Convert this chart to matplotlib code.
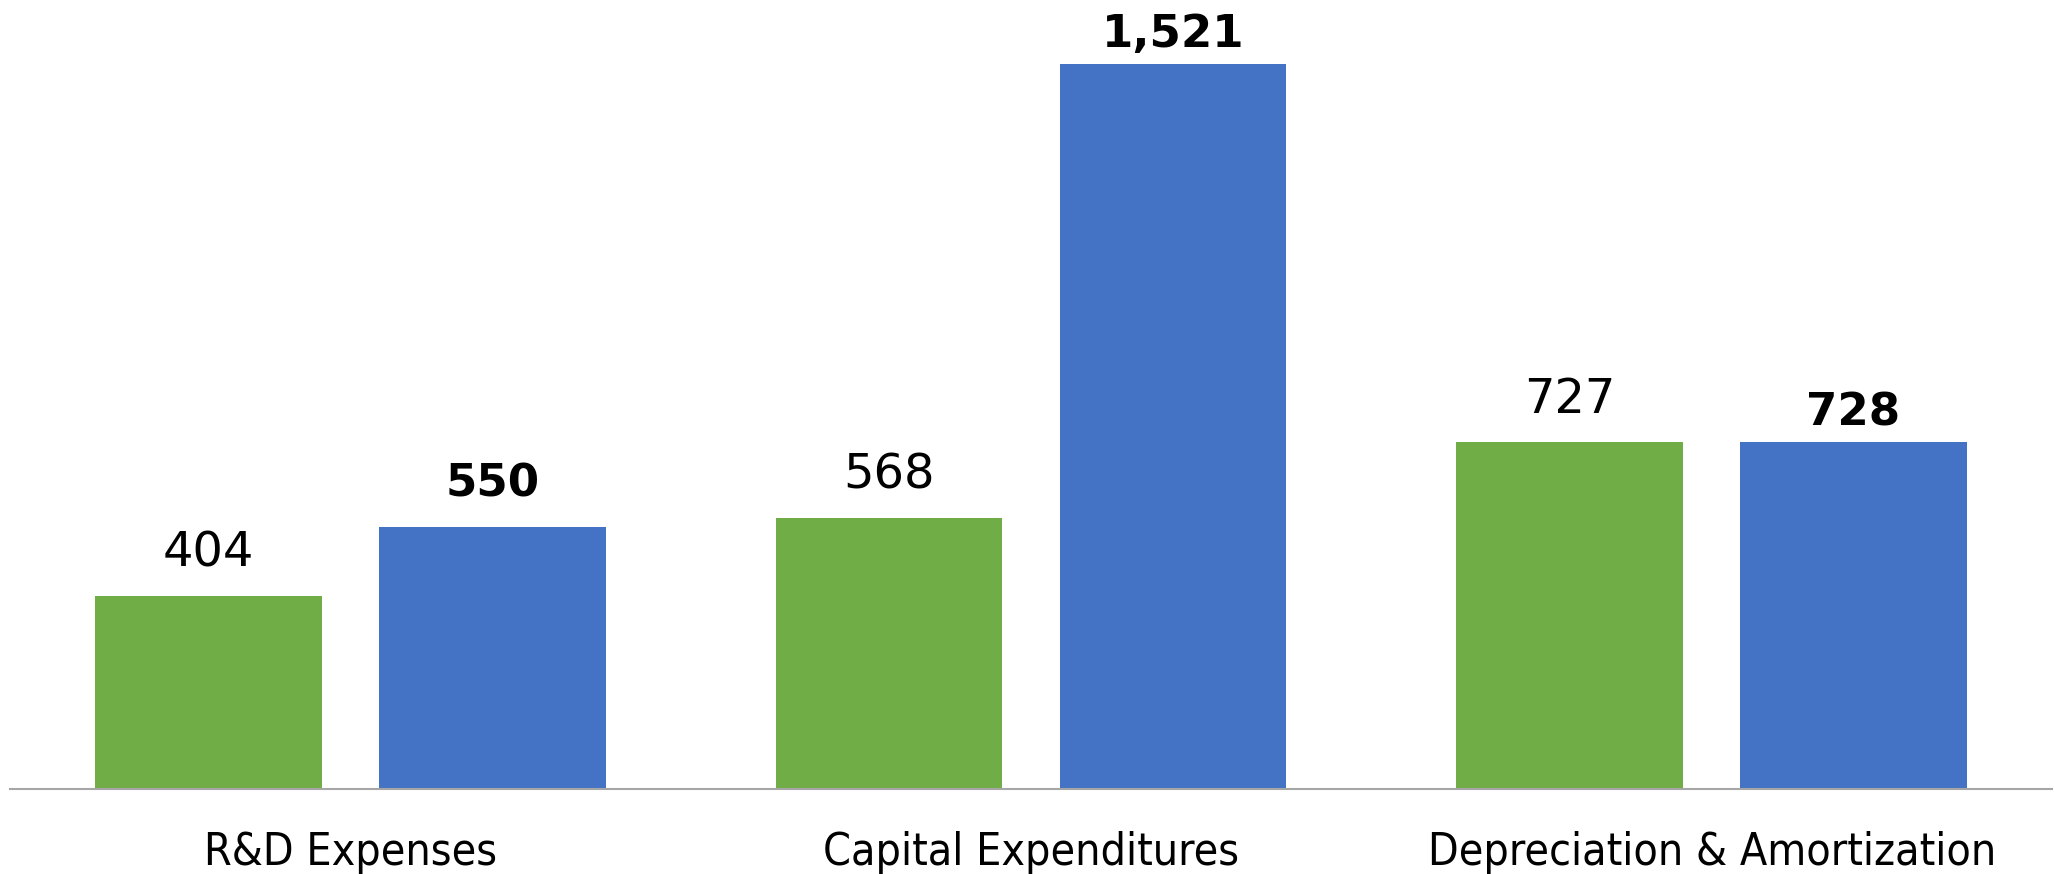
import matplotlib
matplotlib.use("Agg")
import matplotlib.pyplot as plt
import numpy as np

categories = ["R&D Expenses", "Capital Expenditures", "Depreciation & Amortization"]
prev_values = [404, 568, 727]
curr_values = [550, 1521, 728]
prev_labels = ["404", "568", "727"]
curr_labels = ["550", "1,521", "728"]

GREEN = "#70AD47"
BLUE = "#4472C4"

plt.rcParams['font.family'] = ['DejaVu Sans']

fig = plt.figure(figsize=(20.54, 8.74), dpi=100)
ax = fig.add_axes([10 / 2054, 85 / 874, 2042 / 2054, 1 - 85 / 874])

x = np.arange(len(categories))
w = 0.333
off = 0.2084
b1 = ax.bar(x - off, prev_values, width=w, color=GREEN)
b2 = ax.bar(x + off, curr_values, width=w, color=BLUE)

# label offsets above bar (points)
prev_offsets = [21.5, 21.5, 21.5]
curr_offsets = [21.5, 12, 12]

for rect, lab, o in zip(b1, prev_labels, prev_offsets):
    ax.annotate(lab, (rect.get_x() + rect.get_width() / 2, rect.get_height()),
                xytext=(0, o), textcoords="offset points", ha="center",
                va="baseline", fontsize=34.5, color="black")
for rect, lab, o in zip(b2, curr_labels, curr_offsets):
    ax.annotate(lab, (rect.get_x() + rect.get_width() / 2, rect.get_height()),
                xytext=(0, o), textcoords="offset points", ha="center",
                va="baseline", fontsize=32.5, fontweight="bold", color="black")

ax.set_xlim(-0.5, 2.5)
ax.set_ylim(0, 1655)
ax.set_xticks(x)
ax.set_xticklabels(categories, fontsize=32, stretch="condensed")
for t in ax.get_xticklabels():
    t.set_va("baseline")
ax.tick_params(axis="x", length=0, pad=55)
ax.set_yticks([])
for s in ["top", "left", "right"]:
    ax.spines[s].set_visible(False)
ax.spines["bottom"].set_color("#A6A6A6")
ax.spines["bottom"].set_linewidth(1.5)
ax.patch.set_alpha(0)

fig.savefig("out.png", dpi=100)
